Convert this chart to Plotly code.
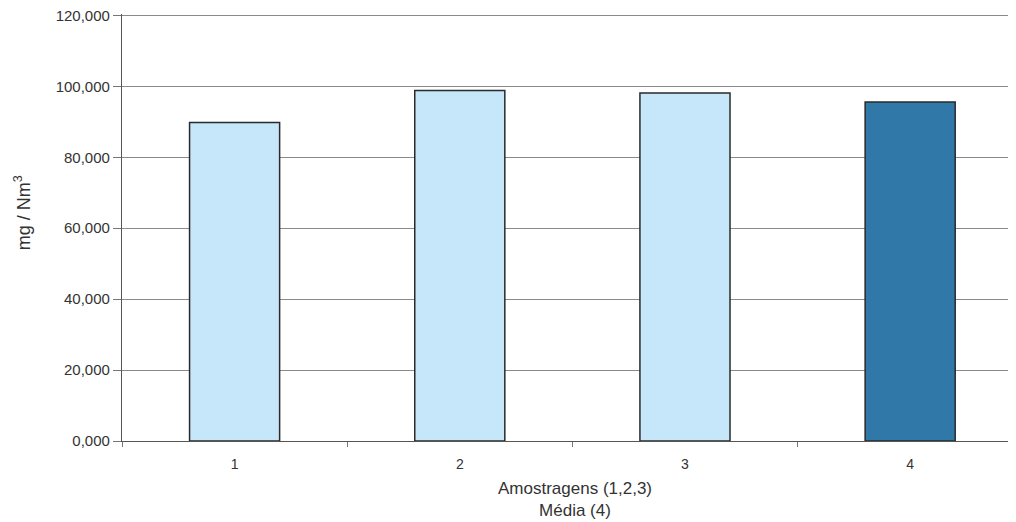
import plotly.graph_objects as go

categories = ["1", "2", "3", "4"]
values = [89.8, 98.8, 98.1, 95.6]
bar_colors = ["#c6e6f9", "#c6e6f9", "#c6e6f9", "#2f78a8"]
y_ticks = [0, 20, 40, 60, 80, 100, 120]
x_title = "Amostragens (1,2,3)<br>Média (4)"
y_title = "mg / Nm<sup>3</sup>"

fig = go.Figure()
fig.add_trace(go.Bar(
    x=categories, y=values,
    marker=dict(color=bar_colors, line=dict(color="#2a2a2a", width=1.5)),
    width=0.4,
))

font_family = "Liberation Sans, Arial, sans-serif"
fig.update_layout(
    width=1008, height=514,
    margin=dict(l=114, r=0, t=6, b=81, autoexpand=False),
    paper_bgcolor="white", plot_bgcolor="white",
    separators=",.",
    showlegend=False,
    font=dict(family=font_family, size=13, color="#333333"),
    xaxis=dict(
        type="category",
        range=[-0.5, 3.47],
        automargin=False,
        showline=True, linecolor="#555555", linewidth=1.2,
        ticks="outside", tickson="boundaries", ticklen=5, tickcolor="#777777",
        ticklabelstandoff=10,
        showgrid=False,
        tickfont=dict(size=14),
    ),
    yaxis=dict(
        range=[0, 120.4],
        tickvals=y_ticks,
        tickformat=".3f",
        automargin=False,
        ticklabeloverflow="allow",
        showline=True, linecolor="#555555", linewidth=1.2,
        ticks="outside", ticklen=8, tickcolor="#777777",
        showgrid=True, gridcolor="#8a8a8a", gridwidth=1,
        zeroline=False,
        tickfont=dict(size=15),
    ),
    annotations=[
        dict(text=x_title, xref="paper", yref="paper", x=0.507, y=-0.136,
             xanchor="center", yanchor="middle", showarrow=False,
             font=dict(size=17, color="#333333")),
        dict(text=y_title, xref="paper", yref="paper", x=-0.111, y=0.535,
             xanchor="center", yanchor="middle", showarrow=False, textangle=-90,
             font=dict(size=18, color="#333333")),
    ],
)

fig.write_html("out.html")
